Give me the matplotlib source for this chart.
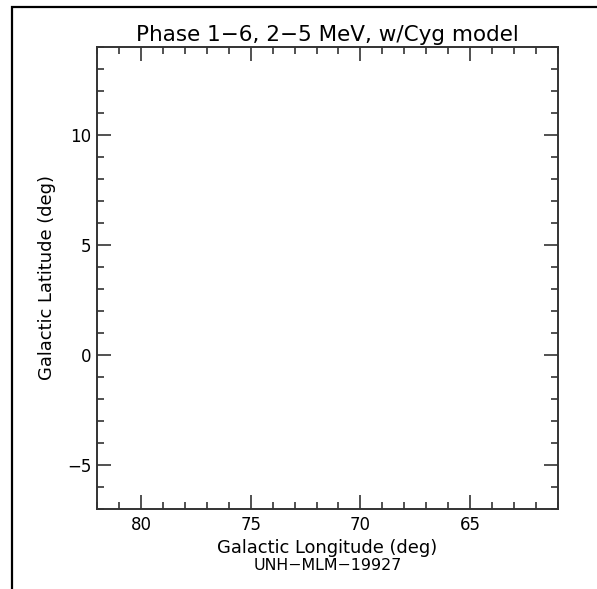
import matplotlib
matplotlib.use("Agg")
import matplotlib.pyplot as plt
from matplotlib.patches import Rectangle
from matplotlib.ticker import MultipleLocator

# axis ranges and labels
lon_range = [82, 61]
lat_range = [-7, 14]
lon_major = [80, 75, 70, 65]
lat_major = [-5, 0, 5, 10]
title = "Phase 1\u22126, 2\u22125 MeV, w/Cyg model"
xlabel = "Galactic Longitude (deg)"
ylabel = "Galactic Latitude (deg)"
footer = "UNH\u2212MLM\u221219927"

W, H = 597, 589
fig = plt.figure(figsize=(W / 100, H / 100), dpi=100)

# outer page frame (only top and left edges visible)
fig.patches.append(Rectangle((12 / W, -0.5), 2.0, 1.5 - 7 / H, transform=fig.transFigure,
                             fill=False, edgecolor="black", linewidth=1.6))

ax_l, ax_r, ax_t, ax_b = 97, 558, 47, 509
ax = fig.add_axes([ax_l / W, 1 - ax_b / H, (ax_r - ax_l) / W, (ax_b - ax_t) / H])
ax.set_xlim(lon_range)
ax.set_ylim(lat_range)
ax.set_xticks(lon_major)
ax.set_yticks(lat_major)
ax.xaxis.set_minor_locator(MultipleLocator(1))
ax.yaxis.set_minor_locator(MultipleLocator(1))
ax.tick_params(which="both", direction="in", top=True, right=True, width=1.2, colors="#333333",
               labelcolor="black", labelsize=12)
ax.tick_params(which="major", length=10)
ax.tick_params(axis="x", which="major", pad=5)
ax.tick_params(axis="y", which="major", pad=4)
ax.tick_params(which="minor", length=5)
for s in ax.spines.values():
    s.set_linewidth(1.4)
    s.set_color("#333333")

ax.set_title(title, fontsize=15.5, pad=4)
ax.set_xlabel(xlabel, fontsize=12.9, va="center")
ax.xaxis.set_label_coords(0.5, (ax_b - 548) / (ax_b - ax_t))
ax.set_ylabel(ylabel, fontsize=12.9, va="center")
ax.yaxis.set_label_coords((47 - ax_l) / (ax_r - ax_l), 0.5)
fig.text((ax_l + ax_r) / 2 / W, 1 - 565 / H, footer, ha="center", va="center", fontsize=11.4)

fig.savefig("out.png", dpi=100)
